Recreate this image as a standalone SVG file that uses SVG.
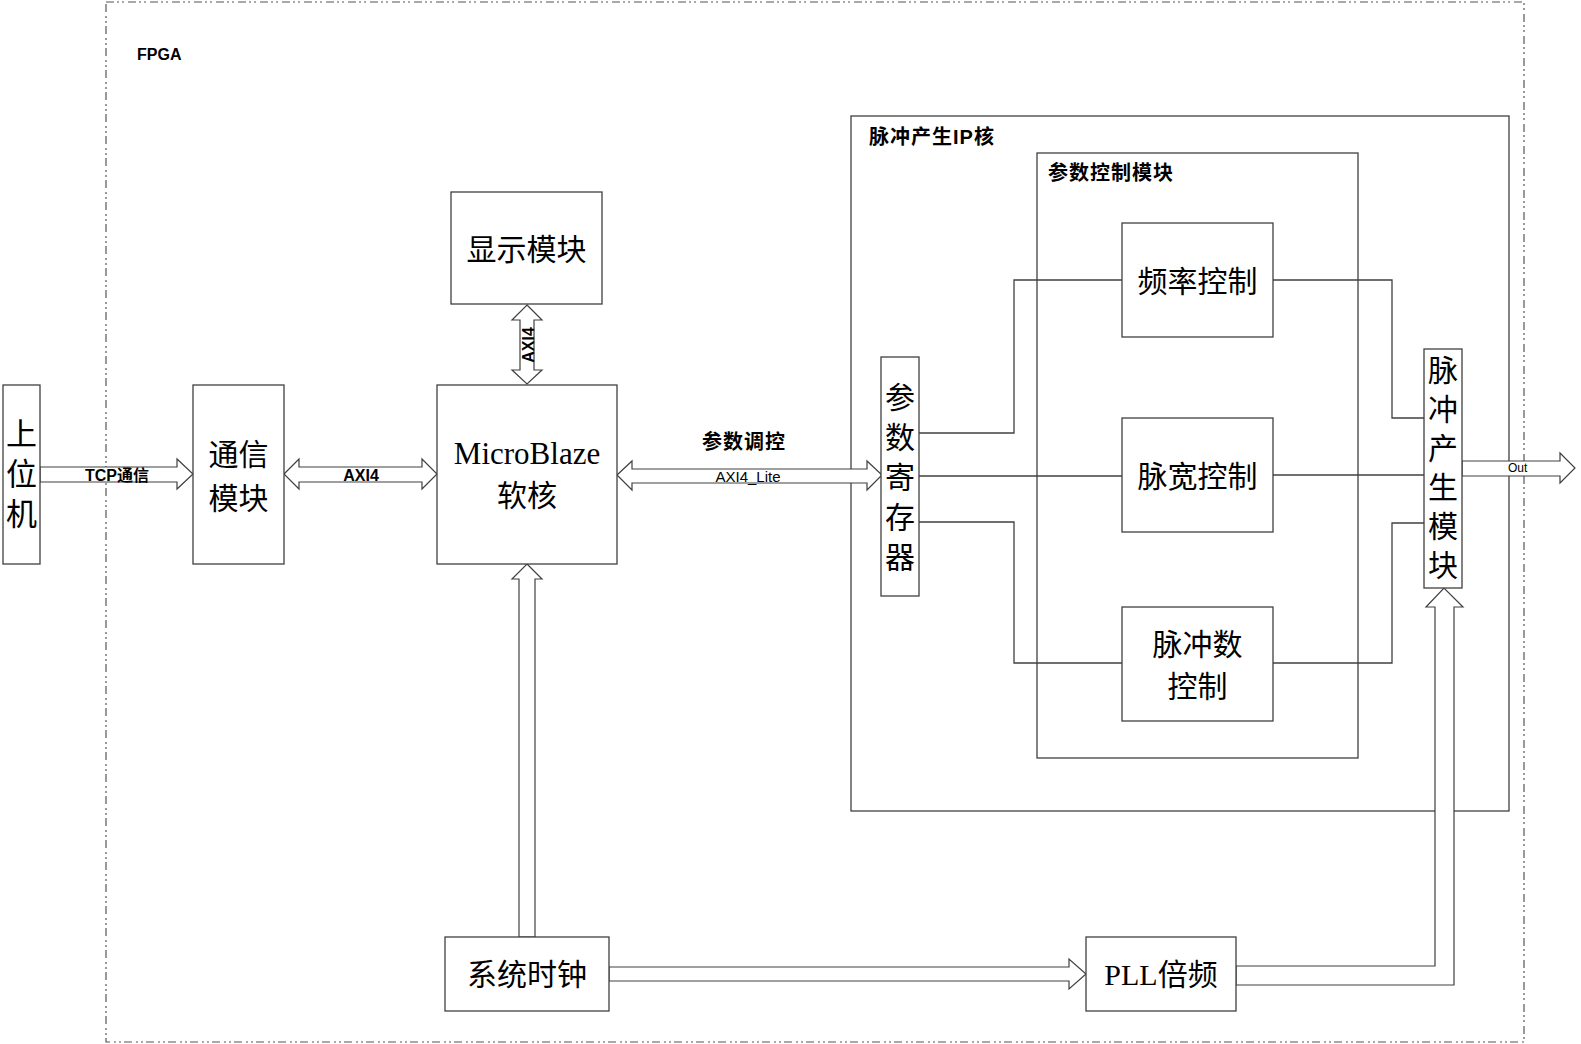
<svg xmlns="http://www.w3.org/2000/svg" width="1581" height="1044" viewBox="0 0 1581 1044">
<style>
.box{fill:#fff;stroke:#404040;stroke-width:1.3}
.frame{fill:none;stroke:#404040;stroke-width:1.3}
.dash{fill:none;stroke:#555;stroke-width:1.2;stroke-dasharray:8 3 2 3 2 4}
.arr{fill:#fff;stroke:#404040;stroke-width:1.2;stroke-linejoin:miter}
.wire{fill:none;stroke:#404040;stroke-width:1.3}
.big{font-family:"Liberation Serif","Noto Sans CJK SC",serif;font-size:30px;fill:#000;text-anchor:middle;dominant-baseline:central}
.lbl{font-family:"Liberation Sans","Noto Sans CJK SC",sans-serif;font-weight:bold;font-size:20px;fill:#000;letter-spacing:1px}
.sm{font-family:"Liberation Sans","Noto Sans CJK SC",sans-serif;font-weight:bold;font-size:16px;fill:#000;text-anchor:middle;dominant-baseline:central}
.thin{font-family:"Liberation Sans","Noto Sans CJK SC",sans-serif;fill:#000}
</style>

<g id="fpga">
<rect class="dash" x="106" y="2" width="1418" height="1040"/>
<text class="lbl" x="137" y="60" style="font-size:16px;letter-spacing:0">FPGA</text>
</g>

<g id="ip-core">
<rect class="frame" x="851" y="116" width="658" height="695"/>
<text class="lbl" x="869" y="137" dominant-baseline="central">脉冲产生IP核</text>
</g>

<g id="param-ctrl">
<rect class="frame" x="1037" y="153" width="321" height="605"/>
<text class="lbl" x="1048" y="173" dominant-baseline="central">参数控制模块</text>
</g>

<g id="connectors">
<polyline class="wire" points="919,433 1014,433 1014,280 1122,280"/>
<polyline class="wire" points="919,476 1122,476"/>
<polyline class="wire" points="919,522 1014,522 1014,663 1122,663"/>
<polyline class="wire" points="1273,280 1392,280 1392,418 1424,418"/>
<polyline class="wire" points="1273,475 1424,475"/>
<polyline class="wire" points="1273,663 1392,663 1392,523 1424,523"/>
<polygon class="arr" points="40,467 177,467 177,459 193,474 177,489 177,482 40,482"/>
<polygon class="arr" points="284,474 299,459 299,467 422,467 422,459 437,474 422,489 422,482 299,482 299,489"/>
<polygon class="arr" points="527,305 542,320 534,320 534,370 542,370 527,384 512,370 520,370 520,320 512,320"/>
<polygon class="arr" points="617,475 632,461 632,469 867,469 867,461 882,475 867,490 867,483 632,483 632,490"/>
<polygon class="arr" points="527,564 542,579 535,579 535,937 519,937 519,579 512,579"/>
<polygon class="arr" points="609,967 1069,967 1069,959 1086,974 1069,989 1069,981 609,981"/>
<polygon class="arr" points="1236,966 1435,966 1435,607 1426,607 1444,588 1463,607 1454,607 1454,985 1236,985"/>
<polygon class="arr" points="1462,461 1560,461 1560,453 1575,468 1560,483 1560,476 1462,476"/>
<text class="sm" x="117" y="475">TCP通信</text>
<text class="sm" x="361" y="475">AXI4</text>
<text class="sm" x="0" y="0" transform="translate(528,345) rotate(-90)">AXI4</text>
<text class="lbl" x="744" y="442" text-anchor="middle" dominant-baseline="central">参数调控</text>
<text class="thin" x="748" y="482" text-anchor="middle" font-size="15">AXI4_Lite</text>
<text class="thin" x="1508" y="472" font-size="12">Out</text>
</g>

<g id="host">
<rect class="box" x="3" y="385" width="37" height="179"/>
<text class="big" x="21.5" y="434" style="font-size:31px">上</text>
<text class="big" x="21.5" y="474" style="font-size:31px">位</text>
<text class="big" x="21.5" y="514" style="font-size:31px">机</text>
</g>

<g id="comm">
<rect class="box" x="193" y="385" width="91" height="179"/>
<text class="big" x="238.5" y="454">通信</text>
<text class="big" x="238.5" y="498">模块</text>
</g>

<g id="display">
<rect class="box" x="451" y="192" width="151" height="112"/>
<text class="big" x="526.5" y="249">显示模块</text>
</g>

<g id="microblaze">
<rect class="box" x="437" y="385" width="180" height="179"/>
<text class="big" x="527" y="453" style="font-size:31px">MicroBlaze</text>
<text class="big" x="527" y="495">软核</text>
</g>

<g id="sysclk">
<rect class="box" x="445" y="937" width="164" height="74"/>
<text class="big" x="527" y="974">系统时钟</text>
</g>

<g id="pll">
<rect class="box" x="1086" y="937" width="150" height="74"/>
<text class="big" x="1161" y="974">PLL倍频</text>
</g>

<g id="param-reg">
<rect class="box" x="881" y="357" width="38" height="239"/>
<text class="big" x="900" y="397">参</text>
<text class="big" x="900" y="437">数</text>
<text class="big" x="900" y="477">寄</text>
<text class="big" x="900" y="517">存</text>
<text class="big" x="900" y="557">器</text>
</g>

<g id="freq">
<rect class="box" x="1122" y="223" width="151" height="114"/>
<text class="big" x="1197.5" y="281">频率控制</text>
</g>

<g id="width">
<rect class="box" x="1122" y="418" width="151" height="114"/>
<text class="big" x="1197.5" y="476">脉宽控制</text>
</g>

<g id="count">
<rect class="box" x="1122" y="607" width="151" height="114"/>
<text class="big" x="1197.5" y="644">脉冲数</text>
<text class="big" x="1197.5" y="686">控制</text>
</g>

<g id="pulse-gen">
<rect class="box" x="1424" y="349" width="38" height="239"/>
<text class="big" x="1443" y="370">脉</text>
<text class="big" x="1443" y="409">冲</text>
<text class="big" x="1443" y="448">产</text>
<text class="big" x="1443" y="487">生</text>
<text class="big" x="1443" y="526">模</text>
<text class="big" x="1443" y="565">块</text>
</g>
</svg>
